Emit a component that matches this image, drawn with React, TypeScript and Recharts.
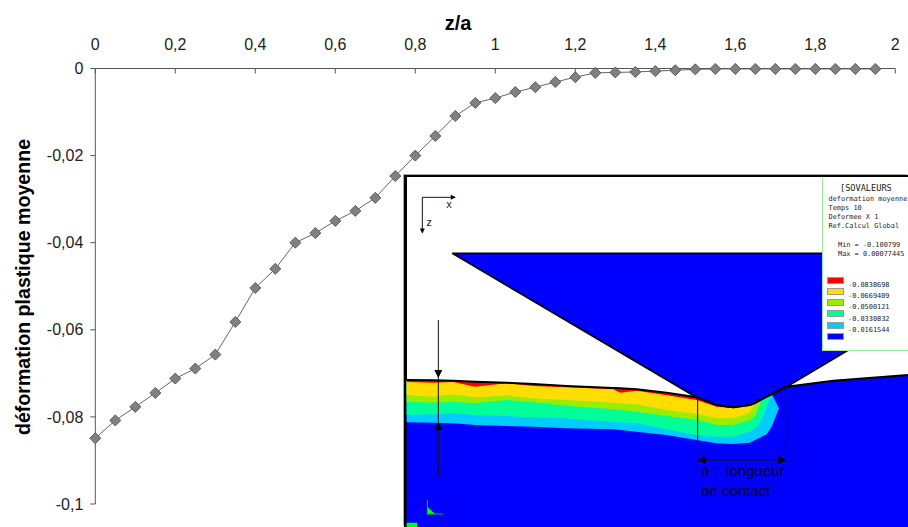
import {
  ComposedChart, LineChart, Area, Line, Scatter,
  XAxis, YAxis, ReferenceLine, ReferenceArea,
} from 'recharts';

// main curve
const zOverA = [
  0, 0.05, 0.1, 0.15, 0.2, 0.25, 0.3, 0.35, 0.4, 0.45,
  0.5, 0.55, 0.6, 0.65, 0.7, 0.75, 0.8, 0.85, 0.9, 0.95,
  1, 1.05, 1.1, 1.15, 1.2, 1.25, 1.3, 1.35, 1.4, 1.45,
  1.5, 1.55, 1.6, 1.65, 1.7, 1.75, 1.8, 1.85, 1.9, 1.95,
];
const strain = [
  -0.0849, -0.0808, -0.0777, -0.0745, -0.0712, -0.0689, -0.0657, -0.0582, -0.0504, -0.046,
  -0.04, -0.0378, -0.035, -0.0327, -0.0297, -0.0247, -0.02, -0.0155, -0.0109, -0.0079,
  -0.0068, -0.0054, -0.0043, -0.0031, -0.002, -0.001, -0.0009, -0.0008, -0.0006, -0.0004,
  -0.0002, -0.0001, -0.0001, -0.0001, -0.0001, -0.0001, -0.0001, -0.0001, -0.0001, -0.0001,
];
const xTicks = [0, 0.2, 0.4, 0.6, 0.8, 1, 1.2, 1.4, 1.6, 1.8, 2];
const yTicks = [0, -0.02, -0.04, -0.06, -0.08, -0.1];

// inset mesh in its own units (1524 x 1071)
const meshX = [20, 100, 160, 225, 320, 400, 500, 640, 660, 710, 800, 890, 950, 1000, 1050, 1065, 1085, 1100, 1115, 1137, 1160, 1300, 1524];
const surface = [630, 631, 632, 635, 638, 642, 648, 654, 655, 658, 668, 682, 705, 712, 705, 699, 688, 680, 672, 660, 650, 632, 615];
const redLower = [636, 638, 636, 650, 640, 648, 652, 658, 668, 662, 676, 690, 710, 714];
const yellowLower = [675, 680, 673, 682, 676, 685, 690, 698, 700, 703, 720, 732, 745, 745, 727, 699];
const limeLower = [695, 698, 695, 700, 690, 697, 707, 718, 720, 725, 738, 750, 765, 765, 750, 738, 690];
const tealLower = [735, 733, 730, 735, 738, 742, 745, 755, 757, 760, 778, 795, 800, 800, 785, 775, 750, 710, 674];
const cyanLower = [757, 758, 760, 765, 768, 770, 775, 778, 780, 785, 795, 810, 820, 822, 818, 810, 800, 793, 770, 715];
const cyanUpper = [...surface.slice(0, 19), 715];
const groundLower = surface.map(() => 1071);

const indenterX = [157, 890, 950, 1000, 1050, 1100, 1160, 1345, 1524];
const indenterUpper = [250, 250, 250, 250, 250, 250, 250, 250, 250];
const indenterLower = [250, 682, 705, 712, 705, 680, 650, 540, 433];

const triadX = [82, 105];
const triadUpper = [1010, 1032];
const triadLower = [1032, 1032];

const arrowHeads = [
  { x: 115, y: 612, dir: 'down', size: 4 },
  { x: 115, y: 768, dir: 'up', size: 4 },
  { x: 905, y: 870, dir: 'left', size: 4 },
  { x: 1147, y: 870, dir: 'right', size: 4 },
  { x: 160, y: 82, dir: 'right', size: 2.5 },
  { x: 67, y: 183, dir: 'down', size: 2.5 },
];
const leaders = [
  [115, 450, 115, 915],
  [893, 682, 893, 895],
  [1157, 650, 1157, 895],
  [893, 870, 1157, 870],
  [67, 82, 165, 82],
  [67, 82, 67, 188],
];

// inset legend
const legendTitle = '[SOVALEURS';
const legendInfo = ['deformation moyenne', 'Temps 10', 'Deformee X 1', 'Ref.Calcul Global'];
const legendRange = ['Min = -0.100799', 'Max = 0.00077445'];
const isoColors = ['#ff0000', '#ffdd00', '#99ee00', '#00ff99', '#00ccff', '#0000ff'];
const isoLabels = ['-0.0838698', '-0.0669409', '-0.0500121', '-0.0330832', '-0.0161544'];

const rows = (xs: number[], upper: number[], lower: number[]) =>
  lower.map((v, i) => ({ x: xs[i], band: [upper[i], v] }));

const curve = zOverA.map((z, i) => ({ z, strain: strain[i] }));
const fmtComma = (v: number) => String(v).replace('.', ',');
const ARIAL = '"Liberation Sans", Arial, sans-serif';
const MONO = '"DejaVu Sans Mono", "Liberation Mono", monospace';

function Diamond({ cx, cy }: any) {
  const r = 5.5;
  return (
    <path
      d={`M${cx},${cy - r}L${cx + r},${cy}L${cx},${cy + r}L${cx - r},${cy}Z`}
      fill="#808080" stroke="#5a5a5a" strokeWidth={1}
    />
  );
}

function ArrowHead({ cx, cy, payload }: any) {
  const s = payload.size;
  const pts: Record<string, string> = {
    down: `M${cx - s},${cy - s}L${cx + s},${cy - s}L${cx},${cy + s}Z`,
    up: `M${cx - s},${cy + s}L${cx + s},${cy + s}L${cx},${cy - s}Z`,
    left: `M${cx + s},${cy - s}L${cx + s},${cy + s}L${cx - s},${cy}Z`,
    right: `M${cx - s},${cy - s}L${cx - s},${cy + s}L${cx + s},${cy}Z`,
  };
  return <path d={pts[payload.dir]} fill="#000" />;
}

const monoText = (text: string, left: number, centerY: number, size = 6.9) => (
  <div key={text} style={{
    position: 'absolute', left, top: centerY - 6, height: 12, lineHeight: '12px',
    fontFamily: MONO, fontSize: size, color: '#222', whiteSpace: 'pre',
  }}>{text}</div>
);

function Inset() {
  return (
    <>
      <div style={{
        position: 'absolute', left: 404, top: 175, width: 504, height: 352, boxSizing: 'border-box',
        background: '#fff', borderLeft: '3px solid #000', borderTop: '2px solid #000', boxShadow: '-1px -1px 0 #aaa',
      }} />
      <div style={{ position: 'absolute', left: 400, top: 170, filter: 'blur(0.35px)' }}>
        <ComposedChart width={508} height={357} margin={{ top: 0, right: 0, bottom: 0, left: 0 }}>
          <XAxis dataKey="x" type="number" domain={[0, 1524]} hide allowDuplicatedCategory={false} />
          <YAxis type="number" domain={[0, 1071]} reversed hide />
          <Area data={rows(meshX, surface, groundLower)} dataKey="band" type="linear" fill="#0000ff" fillOpacity={1} stroke="none" isAnimationActive={false} />
          <Area data={rows(meshX, cyanUpper, cyanLower)} dataKey="band" type="linear" fill="#00ccff" fillOpacity={1} stroke="none" isAnimationActive={false} />
          <Area data={rows(meshX, surface, tealLower)} dataKey="band" type="linear" fill="#00ff99" fillOpacity={1} stroke="none" isAnimationActive={false} />
          <Area data={rows(meshX, surface, limeLower)} dataKey="band" type="linear" fill="#99ee00" fillOpacity={1} stroke="none" isAnimationActive={false} />
          <Area data={rows(meshX, surface, yellowLower)} dataKey="band" type="linear" fill="#ffdd00" fillOpacity={1} stroke="none" isAnimationActive={false} />
          <Area data={rows(meshX, surface, redLower)} dataKey="band" type="linear" fill="#ff0000" fillOpacity={1} stroke="none" isAnimationActive={false} />
          <Line data={meshX.map((x, i) => ({ x, s: surface[i] }))} dataKey="s" type="linear" stroke="#000" strokeWidth={2} dot={false} isAnimationActive={false} />
          <Area data={rows(indenterX, indenterUpper, indenterLower)} dataKey="band" type="linear" fill="#0000ff" fillOpacity={1} stroke="#000" strokeWidth={1.8} isAnimationActive={false} />
          {leaders.map(([x1, y1, x2, y2], i) => (
            <ReferenceLine key={i} segment={[{ x: x1, y: y1 }, { x: x2, y: y2 }]} stroke="#111" strokeWidth={1} />
          ))}
          <Scatter data={arrowHeads} dataKey="y" shape={ArrowHead} isAnimationActive={false} />
          <Area data={rows(triadX, triadUpper, triadLower)} dataKey="band" type="linear" fill="#00ff00" fillOpacity={1} stroke="none" isAnimationActive={false} />
          <ReferenceLine segment={[{ x: 82, y: 990 }, { x: 82, y: 1035 }]} stroke="#00cc00" />
          <ReferenceLine segment={[{ x: 82, y: 1032 }, { x: 128, y: 1032 }]} stroke="#00cc00" />
          <ReferenceArea x1={20} x2={52} y1={1058} y2={1071} fill="#00ff00" fillOpacity={1} stroke="none" />
        </ComposedChart>
      </div>

      <div style={{ position: 'absolute', left: 446, top: 199, fontFamily: MONO, fontSize: 10, lineHeight: '12px', color: '#111' }}>x</div>
      <div style={{ position: 'absolute', left: 426, top: 217, fontFamily: MONO, fontSize: 10, lineHeight: '12px', color: '#111' }}>z</div>
      <div style={{ position: 'absolute', left: 701, top: 461, fontFamily: ARIAL, fontSize: 15, lineHeight: '19.5px', color: '#000018', whiteSpace: 'pre' }}>
        {'a :  longueur\nde contact'}
      </div>

      {/* isovalue legend */}
      <div style={{
        position: 'absolute', left: 822, top: 177, width: 86, height: 174, boxSizing: 'border-box',
        background: '#fff', borderLeft: '1px solid #99ee99', borderBottom: '1px solid #99ee99', overflow: 'hidden',
      }}>
        <div style={{ position: 'absolute', left: -823, top: -177, width: 908, height: 527 }}>
          {monoText(legendTitle, 840, 188, 8.6)}
          {legendInfo.map((t, i) => monoText(t, 828.5, [198.7, 207.7, 217, 226][i]))}
          {legendRange.map((t, i) => monoText(t, 838, [244.7, 254][i]))}
          {isoColors.map((c, i) => (
            <div key={c} style={{
              position: 'absolute', left: 827, top: 277 + i * 11.15, width: 17, height: 7,
              boxSizing: 'border-box', background: c, border: '1px solid #999',
            }} />
          ))}
          {isoLabels.map((t, i) => monoText(t, 848, 285 + i * 11.2))}
        </div>
      </div>
    </>
  );
}

export default function App() {
  return (
    <div style={{ position: 'absolute', left: 0, top: 0, width: 908, height: 527, overflow: 'hidden', background: '#fff' }}>
      <LineChart
        width={908} height={527} data={curve}
        margin={{ top: 0, right: 12.7, bottom: 23, left: 0 }}
        style={{ position: 'absolute', left: 0, top: 0 }}
      >
        <XAxis
          dataKey="z" type="number" orientation="top" domain={[0, 2]} ticks={xTicks}
          tickFormatter={fmtComma} tickSize={-5} tickMargin={24}
          stroke="#555" tick={{ fill: '#222', fontSize: 16, fontFamily: ARIAL }}
          interval={0} height={68.5}
        />
        <YAxis
          type="number" domain={[-0.1, 0]} ticks={yTicks} tickFormatter={fmtComma}
          tickSize={5} tickMargin={7} stroke="#555" width={95.3} interval={0}
          tick={{ fill: '#222', fontSize: 16, fontFamily: ARIAL }}
        />
        <Line
          dataKey="strain" type="linear" stroke="#666" strokeWidth={1}
          dot={Diamond} isAnimationActive={false}
        />
      </LineChart>

      <div style={{ position: 'absolute', left: 358, top: 11, width: 200, textAlign: 'center', fontFamily: ARIAL, fontWeight: 'bold', fontSize: 20, lineHeight: '24px', color: '#000' }}>z/a</div>
      <div style={{
        position: 'absolute', left: 23, top: 287, width: 340, height: 24, marginLeft: -170, marginTop: -12,
        transform: 'rotate(-90deg)', textAlign: 'center', fontFamily: ARIAL, fontWeight: 'bold', fontSize: 19.6,
        lineHeight: '24px', color: '#000', whiteSpace: 'nowrap',
      }}>déformation plastique moyenne</div>

      <Inset />
    </div>
  );
}
